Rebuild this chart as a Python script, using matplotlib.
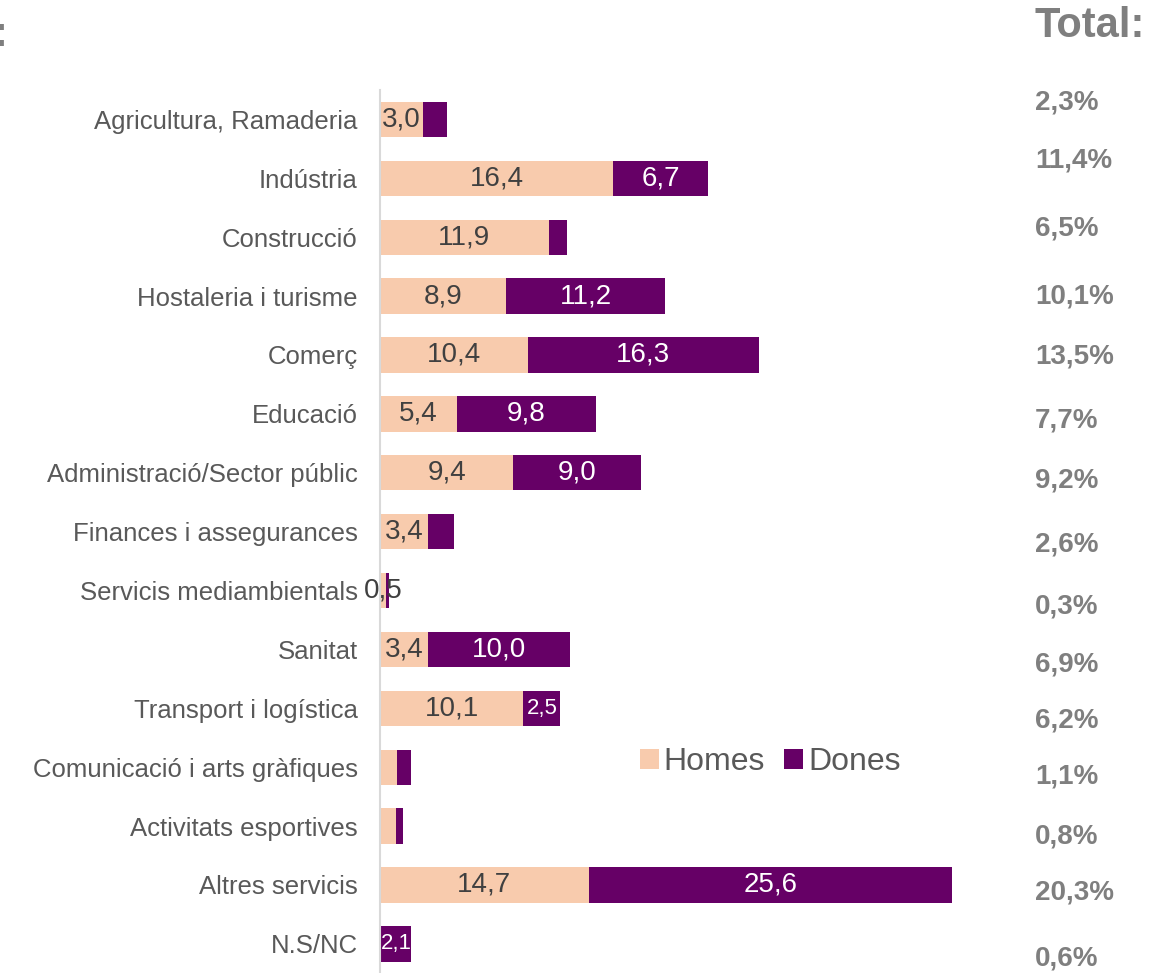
import numpy as np
import matplotlib.pyplot as plt

plt.rcParams['font.family'] = ['Liberation Sans', 'DejaVu Sans']

# sectors (top to bottom) and % by sex
sectors = ['Agricultura, Ramaderia', 'Indústria', 'Construcció', 'Hostaleria i turisme',
           'Comerç', 'Educació', 'Administració/Sector públic', 'Finances i assegurances',
           'Servicis mediambientals', 'Sanitat', 'Transport i logística',
           'Comunicació i arts gràfiques', 'Activitats esportives', 'Altres servicis', 'N.S/NC']
homes = [3.0, 16.4, 11.9, 8.9, 10.4, 5.4, 9.4, 3.4, 0.4, 3.4, 10.1, 1.2, 1.1, 14.7, 0.1]
dones = [1.7, 6.7, 1.3, 11.2, 16.3, 9.8, 9.0, 1.8, 0.2, 10.0, 2.6, 1.0, 0.5, 25.6, 2.1]
homes_lbl = ['3,0', '16,4', '11,9', '8,9', '10,4', '5,4', '9,4', '3,4', '0,5', '3,4', '10,1',
             '', '', '14,7', '']
dones_lbl = ['', '6,7', '', '11,2', '16,3', '9,8', '9,0', '', '', '10,0', '2,5',
             '', '', '25,6', '2,1']
totals = ['2,3%', '11,4%', '6,5%', '10,1%', '13,5%', '7,7%', '9,2%', '2,6%', '0,3%',
          '6,9%', '6,2%', '1,1%', '0,8%', '20,3%', '0,6%']

c_h = '#F8CBAD'
c_d = '#660066'
grey = '#595959'

W, H = 1171, 973
fig = plt.figure(figsize=(W / 100, H / 100), dpi=100)
ax = fig.add_axes([380 / W, -5 / H, 620 / W, 888 / H])

y = np.arange(len(sectors))
ax.barh(y, homes, height=0.6, color=c_h, label='Homes')
ax.barh(y, dones, left=homes, height=0.6, color=c_d, label='Dones')

for i in range(len(sectors)):
    if homes_lbl[i]:
        ax.text(homes[i] / 2, i, homes_lbl[i], ha='center', va='center',
                fontsize=20, color='#404040')
    if dones_lbl[i]:
        fs = 20 if dones[i] >= 3 else 16
        ax.text(homes[i] + dones[i] / 2, i, dones_lbl[i], ha='center', va='center',
                fontsize=fs, color='white')

ax.set_ylim(len(sectors) - 0.5 + 0.08, -0.5)
ax.set_xlim(0, 620 / 14.2)
ax.set_yticks(y)
ax.set_yticklabels(sectors, fontsize=18.5, color=grey)
ax.tick_params(axis='y', length=0, pad=16)
ax.set_xticks([])
for s in ['top', 'right', 'bottom']:
    ax.spines[s].set_visible(False)
ax.spines['left'].set_color('#d9d9d9')
ax.spines['left'].set_linewidth(1.5)

ax.legend(loc='center', bbox_to_anchor=(770 / W, 1 - 762 / H), bbox_transform=fig.transFigure,
          ncol=2, frameon=False, fontsize=23, labelcolor=grey, handlelength=0.6,
          handleheight=0.6, handletextpad=0.15, columnspacing=0.6)

# right hand totals column
fig.text(1145 / W, 1 - 26 / H, 'Total:', ha='right', va='center', fontsize=30,
         fontweight='bold', color='#7f7f7f')
fig.text(-6 / W, 1 - 35 / H, ':', ha='left', va='center', fontsize=30,
         fontweight='bold', color='#7f7f7f')
tot_y = [102, 161, 228, 296, 356, 420, 481, 545, 607, 665, 720, 777, 836, 893, 959]
for t, ty in zip(totals, tot_y):
    fig.text(1035 / W, 1 - ty / H, t, ha='left', va='center', fontsize=20,
             fontweight='bold', color='#7f7f7f')

fig.savefig('out.png', dpi=100)
